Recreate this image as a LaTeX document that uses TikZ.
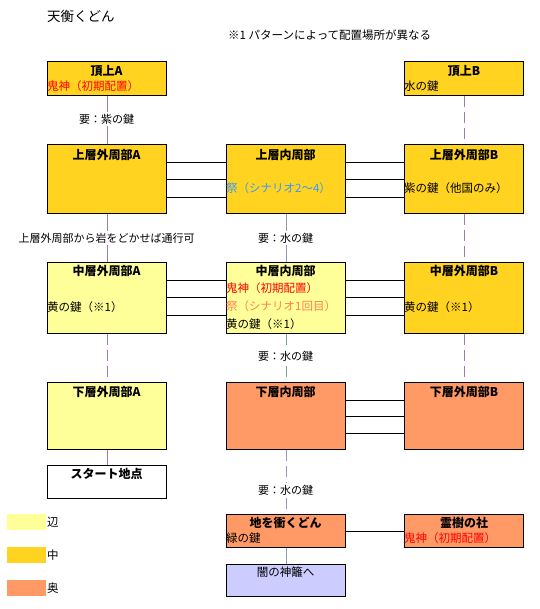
\documentclass[tikz,border=0pt]{standalone}
\usepackage{fontspec}
\setmainfont{Noto Sans CJK JP}
\definecolor{cmid}{HTML}{FFD320}
\definecolor{cedge}{HTML}{FFFF99}
\definecolor{cdeep}{HTML}{FF9966}
\definecolor{cdark}{HTML}{CCCCFF}
\definecolor{cpurp}{HTML}{A07AA8}
\definecolor{cgray}{HTML}{8E9CB0}
\definecolor{cgreen}{HTML}{80A094}
\definecolor{cred}{HTML}{FF0000}
\definecolor{cblue}{HTML}{3399FF}
\definecolor{corange}{HTML}{FF7F50}
\begin{document}
\begin{tikzpicture}[x=1pt,y=-1pt,
 box/.style={draw=black, line width=1pt, anchor=north west, minimum width=119pt, inner sep=0pt},
 ttl/.style={font=\fontsize{12}{14}\selectfont\bfseries, inner sep=0pt},
 txt/.style={font=\fontsize{11.5}{13}\selectfont, anchor=west, inner sep=0pt},
 lbl/.style={font=\fontsize{11}{13}\selectfont, fill=white, inner sep=1.5pt},
 hl/.style={draw=black, line width=0.8pt},
 pl/.style={draw=cpurp, line width=0.8pt},
 gl/.style={draw=cgray, line width=0.8pt},
 dsh/.style={dash pattern=on 11pt off 5pt},
 swatch/.style={anchor=north west, inner sep=0pt, minimum width=39pt, minimum height=16pt}]
\useasboundingbox (0,0) rectangle (539,609);

% titles
\node[font=\fontsize{13.5}{15}\selectfont, anchor=west, inner sep=0pt] (title) at (47,16) {天衡くどん};
\node[font=\fontsize{11.5}{13}\selectfont, anchor=west, inner sep=0pt] (note) at (228,35) {※1 パターンによって配置場所が異なる};

% boxes
\node[box, fill=cmid, minimum height=34pt] (topA) at (47,61) {};
\node[box, fill=cmid, minimum height=34pt] (topB) at (404,61) {};
\node[box, fill=cmid, minimum height=69pt] (uA) at (47,144) {};
\node[box, fill=cmid, minimum height=69pt] (uI) at (226,144) {};
\node[box, fill=cmid, minimum height=69pt] (uB) at (404,144) {};
\node[box, fill=cedge, minimum height=71pt] (mA) at (47,262) {};
\node[box, fill=cedge, minimum height=71pt] (mI) at (226,262) {};
\node[box, fill=cmid, minimum height=71pt] (mB) at (404,262) {};
\node[box, fill=cedge, minimum height=67pt] (lA) at (47,382) {};
\node[box, fill=cdeep, minimum height=67pt] (lI) at (226,382) {};
\node[box, fill=cdeep, minimum height=67pt] (lB) at (404,382) {};
\node[box, fill=white, minimum height=33pt] (start) at (47,465) {};
\node[box, fill=cdeep, minimum height=33pt] (ground) at (226,514) {};
\node[box, fill=cdeep, minimum height=33pt] (shrine) at (404,514) {};
\node[box, fill=cdark, minimum height=32pt] (dark) at (226,564) {};

% horizontal connectors
\foreach \yy in {162,179,197} {\draw[hl] (uA.east |- 0,\yy) -- (uI.west |- 0,\yy); \draw[hl] (uI.east |- 0,\yy) -- (uB.west |- 0,\yy);}
\foreach \yy in {280,297,315} {\draw[hl] (mA.east |- 0,\yy) -- (mI.west |- 0,\yy); \draw[hl] (mI.east |- 0,\yy) -- (mB.west |- 0,\yy);}
\foreach \yy in {400,416,433} {\draw[hl] (lI.east |- 0,\yy) -- (lB.west |- 0,\yy);}
\draw[hl] (ground.east |- 0,531) -- (shrine.west |- 0,531);

% vertical connectors
\draw[pl] (topA) -- (uA);
\draw[pl] (uA) -- (mA);
\draw[pl,dsh] (mA.south) -- (lA.north);
\draw[pl] (lA) -- (start);
\draw[pl,dsh] (topB.south) -- (uB.north);
\draw[pl,dsh] (uB.south) -- (mB.north);
\draw[pl,dsh] (mB.south) -- (lB.north);
\draw[gl] (uI) -- (mI);
\draw[draw=cgreen, line width=0.8pt, dsh] (mI.south) -- (lI.north);
\draw[gl,dsh] (lI.south) -- (ground.north);
\draw[gl] (ground) -- (dark);

% connector labels
\node[lbl] (k1) at (106.5,119) {要：紫の鍵};
\node[lbl] (k2) at (106.5,238) {上層外周部から岩をどかせば通行可};
\node[lbl] (k3) at (285.5,238) {要：水の鍵};
\node[lbl] (k4) at (285.5,356) {要：水の鍵};
\node[lbl] (k5) at (285.5,490) {要：水の鍵};

% box texts
\node[ttl] (topAt) at (106.5,71) {頂上A};
\node[txt, text=cred] (topAc) at (47,86) {鬼神（初期配置）};
\node[ttl] (topBt) at (464,71) {頂上B};
\node[txt] (topBc) at (404,86) {水の鍵};
\node[ttl] (uAt) at (106.5,155) {上層外周部A};
\node[ttl] (uIt) at (285.5,155) {上層内周部};
\node[txt, text=cblue] (uIc) at (226,188) {祭（シナリオ2～4）};
\node[ttl] (uBt) at (464,155) {上層外周部B};
\node[txt] (uBc) at (404,188) {紫の鍵（他国のみ）};
\node[ttl] (mAt) at (106.5,271) {中層外周部A};
\node[txt] (mAc) at (47,307) {黄の鍵（※1）};
\node[ttl] (mIt) at (285.5,271) {中層内周部};
\node[txt, text=cred] (mIc1) at (226,288.5) {鬼神（初期配置）};
\node[txt, text=corange] (mIc2) at (226,306) {祭（シナリオ1回目）};
\node[txt] (mIc3) at (226,324.5) {黄の鍵（※1）};
\node[ttl] (mBt) at (464,271) {中層外周部B};
\node[txt] (mBc) at (404,307) {黄の鍵（※1）};
\node[ttl] (lAt) at (106.5,392) {下層外周部A};
\node[ttl] (lIt) at (285.5,392) {下層内周部};
\node[ttl] (lBt) at (464,392) {下層外周部B};
\node[ttl] (startt) at (106.5,474) {スタート地点};
\node[ttl] (groundt) at (285.5,523) {地を衝くどん};
\node[txt] (groundc) at (226,538) {緑の鍵};
\node[ttl] (shrinet) at (464,523) {霊樹の社};
\node[txt, text=cred] (shrinec) at (404,538) {鬼神（初期配置）};
\node[font=\fontsize{11.5}{13}\selectfont, inner sep=0pt] (darkt) at (285.5,572) {闇の神籬へ};

% legend
\node[swatch, fill=cedge] (lg1) at (7,514) {};
\node[txt] (lg1t) at (47,522) {辺};
\node[swatch, fill=cmid] (lg2) at (7,547) {};
\node[txt] (lg2t) at (47,555) {中};
\node[swatch, fill=cdeep] (lg3) at (7,580) {};
\node[txt] (lg3t) at (47,588) {奥};
\end{tikzpicture}
\end{document}
